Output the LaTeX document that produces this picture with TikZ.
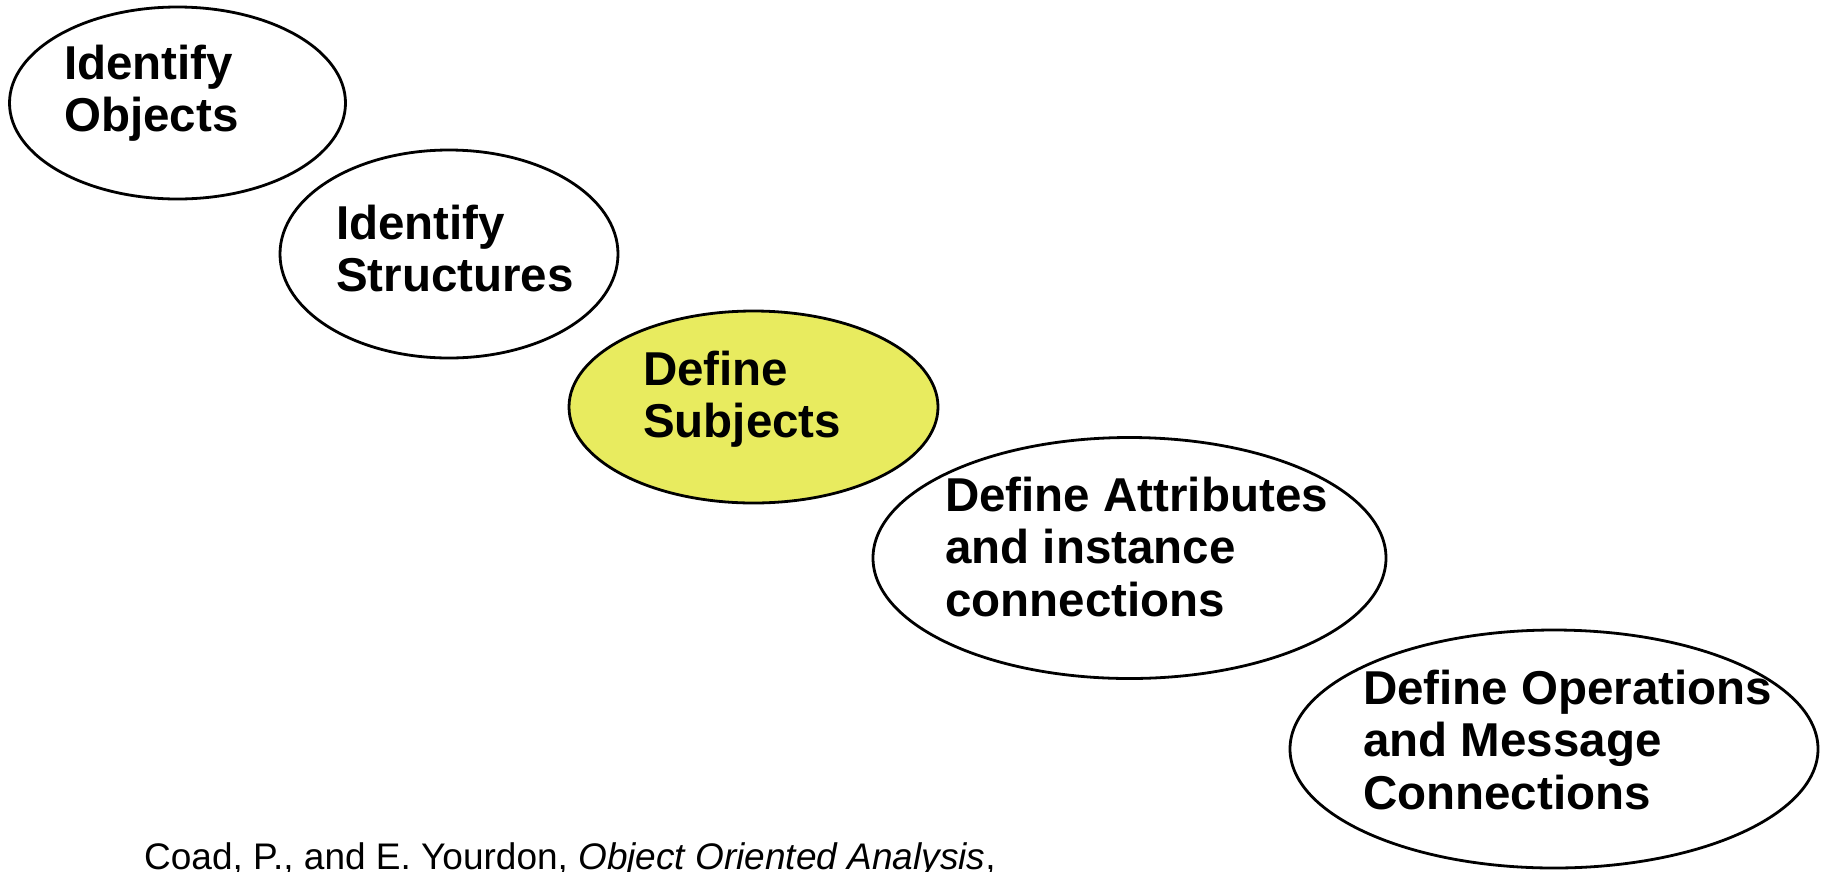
\documentclass[tikz,border=0pt]{standalone}
\usepackage{fontspec}
\setmainfont{Liberation Sans}
\usetikzlibrary{shapes.geometric}
\definecolor{subjyellow}{RGB}{232,235,95}
\tikzset{
  stage/.style={ellipse, draw=black, line width=2.8pt, fill=white, inner sep=0pt},
  lbl/.style={anchor=base west, inner sep=0pt, align=left, font=\fontsize{47.5}{52.5}\selectfont\bfseries},
  cite/.style={anchor=base west, inner sep=0pt, font=\fontsize{37}{44}\selectfont}
}
\begin{document}
\begin{tikzpicture}[x=1pt,y=-1pt]
\useasboundingbox (0,0) rectangle (1825,871);
\node[stage, minimum width=336pt, minimum height=192pt] (e1) at (177.5,103) {};
\node[stage, minimum width=338pt, minimum height=208pt] (e2) at (449,254) {};
\node[stage, fill=subjyellow, minimum width=369pt, minimum height=192pt] (e3) at (753.5,407) {};
\node[stage, minimum width=513pt, minimum height=241pt] (e4) at (1129.5,558) {};
\node[stage, minimum width=528pt, minimum height=238pt] (e5) at (1554,749) {};
\node[lbl] (t1) at (64,131.5) {Identify\\Objects};
\node[lbl] (t2) at (336,291.5) {Identify\\Structures};
\node[lbl] (t3) at (643,437.5) {Define\\Subjects};
\node[lbl] (t4) at (945,616) {Define Attributes\\and instance\\connections};
\node[lbl] (t5) at (1363,809) {Define Operations\\and Message\\Connections};
\node[cite] (c) at (144,869) {Coad, P., and E. Yourdon, \textit{Object Oriented Analysis},};
\end{tikzpicture}
\end{document}
